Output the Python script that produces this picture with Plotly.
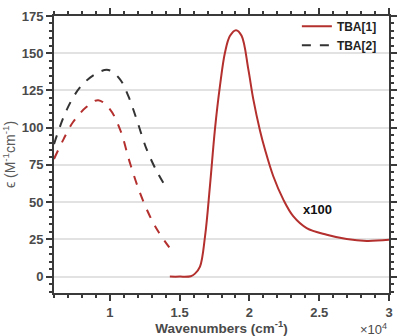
import plotly.graph_objects as go

# TBA[1] solid (x100 region)
tba1_x = [14300, 15000, 15800, 16100, 16460, 16820, 17170, 17530, 17890, 18250, 18610, 19040,
          19440, 19920, 20280, 20760, 21120, 21710, 22430, 23150, 24100, 25540, 26970, 28400, 30000]
tba1_y = [0, 0, 0.3, 2, 6.7, 27, 60.6, 98.9, 128, 150.5, 161.7, 165.5,
          161.7, 139.3, 119, 98, 85.2, 67.4, 51.7, 40.4, 32.6, 28.1, 25.2, 24, 24.7]

# TBA[1] dashed (low-energy)
tba1d_x = [6000, 6670, 7380, 8340, 9170, 10010, 10730, 11440, 12160, 12880, 13470, 14260]
tba1d_y = [79, 92, 104, 114, 118.5, 112.3, 98.9, 76.4, 56.2, 40.4, 30.3, 19.6]

# TBA[2] dashed
tba2_x = [6000, 6910, 7860, 8940, 9890, 10730, 11320, 11920, 12640, 13360, 13950]
tba2_y = [89, 112, 127, 135.9, 138.8, 132.5, 121.3, 105.6, 85.4, 70.8, 61.1]

x_tickvals = [10000, 15000, 20000, 25000, 30000]
x_ticktext = ["1", "1.5", "2", "2.5", "3"]
y_tickvals = [0, 25, 50, 75, 100, 125, 150, 175]

RED = "#b3302e"
DARK = "#333333"
AX = "#3a3a3a"
TXT = "#4a4a4a"
FONT = "Liberation Sans"

fig = go.Figure()
fig.add_trace(go.Scatter(x=tba1d_x, y=tba1d_y, mode="lines", line=dict(color=RED, width=2, dash="dash", shape="spline"),
                         showlegend=False, hoverinfo="skip"))
fig.add_trace(go.Scatter(x=tba1_x, y=tba1_y, mode="lines", name="TBA[1]",
                         line=dict(color=RED, width=2, shape="spline")))
fig.add_trace(go.Scatter(x=tba2_x, y=tba2_y, mode="lines", name="TBA[2]",
                         line=dict(color=DARK, width=2, dash="dash", shape="spline")))

fig.update_layout(
    width=399, height=336,
    margin=dict(l=54, r=10, t=16, b=43, autoexpand=False),
    paper_bgcolor="white", plot_bgcolor="white",
    font=dict(family=FONT, size=13, color=TXT, weight="bold"),
    legend=dict(x=0.725, y=1.015, xanchor="left", yanchor="top", bgcolor="rgba(0,0,0,0)",
                font=dict(size=12, color="#222222", weight="bold"), tracegroupgap=0),
    xaxis=dict(range=[6000, 30000], tickvals=x_tickvals, ticktext=x_ticktext, automargin=False,
               showgrid=False, zeroline=False, showline=True, linecolor=AX, linewidth=2,
               mirror="allticks", ticks="outside", ticklen=6, tickwidth=1.5, tickcolor=AX,
               minor=dict(dtick=1000, tick0=0, ticks="outside", ticklen=3, tickcolor=AX, showgrid=False),
               title=dict(text="Wavenumbers (cm<sup>-1</sup>)", standoff=6,
                          font=dict(size=13.5, color=TXT, weight="bold"))),
    yaxis=dict(range=[-11, 175], tickvals=y_tickvals, automargin=False,
               showgrid=True, gridcolor="#e2e2e2", gridwidth=2, zeroline=False,
               showline=True, linecolor=AX, linewidth=2,
               mirror="allticks", ticks="outside", ticklen=6, tickwidth=1.5, tickcolor=AX,
               minor=dict(dtick=5, tick0=0, ticks="outside", ticklen=3, tickcolor=AX, showgrid=False),
               title=dict(text="ϵ (M<sup>-1</sup>cm<sup>-1</sup>)", standoff=6,
                          font=dict(size=14, color="#5a5a5a", weight="normal"))),
    annotations=[
        dict(x=24900, y=45, xref="x", yref="y", text="x100", showarrow=False,
             font=dict(size=13, color="#111111", weight="bold")),
        dict(x=1, y=-0.095, xref="paper", yref="paper", text="×10<sup>4</sup>", showarrow=False,
             xanchor="right", yanchor="top", font=dict(size=13, color=TXT, weight="normal")),
    ],
)

fig.write_html("out.html")
